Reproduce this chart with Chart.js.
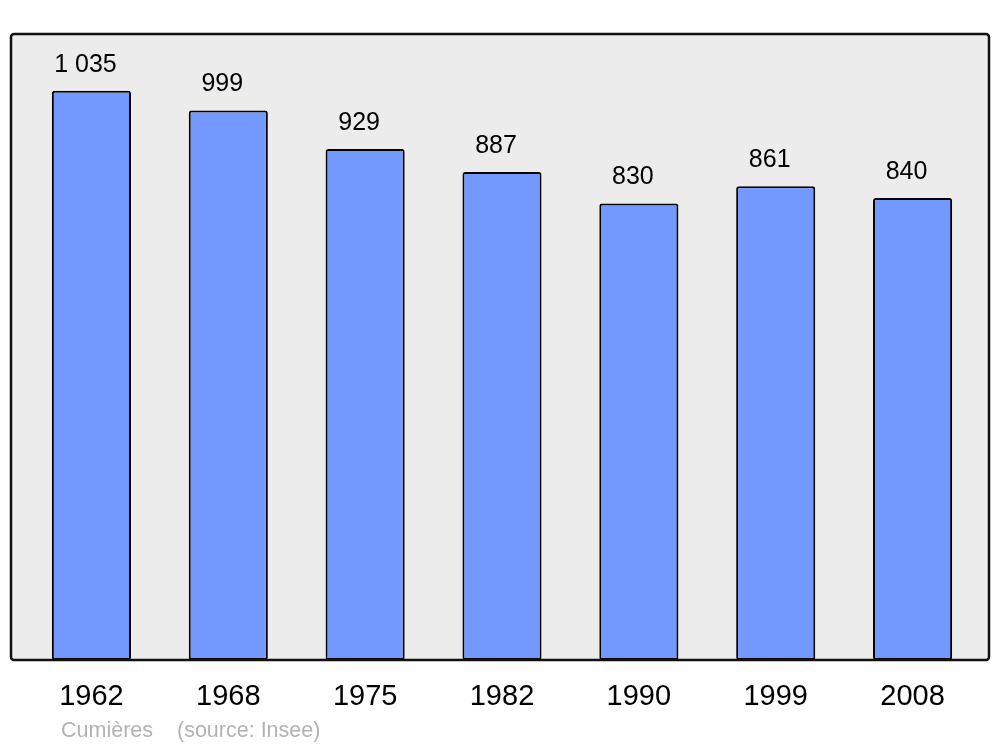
<!DOCTYPE html>
<html>
<head>
<meta charset="utf-8">
<script src="https://cdn.jsdelivr.net/npm/chart.js@4"></script>
<style>
  html, body { margin: 0; padding: 0; background: #fff; }
  #wrap { width: 1000px; height: 747px; }
</style>
</head>
<body>
<div id="wrap"><canvas id="chart"></canvas></div>
<script>
// données (Insee)
const years = ['1962', '1968', '1975', '1982', '1990', '1999', '2008'];
const population = [1035, 999, 929, 887, 830, 861, 840];
const commune = 'Cumières';
const source = '(source: Insee)';

// 1035 -> "1 035"
function formatNb(v) {
    return String(v).replace(/\B(?=(\d{3})+(?!\d))/g, ' ');
}

// fond gris avec cadre arrondi
const boxPlugin = {
    id: 'box',
    beforeDraw(chart) {
        const ctx = chart.ctx;
        ctx.save();
        ctx.beginPath();
        ctx.roundRect(11, 34, 978, 626, 3);
        ctx.fillStyle = '#ececec';
        ctx.fill();
        ctx.restore();
    },
    afterDatasetsDraw(chart) {
        const ctx = chart.ctx;
        ctx.save();
        ctx.beginPath();
        ctx.roundRect(11, 34, 978, 626, 3);
        ctx.lineWidth = 2.5;
        ctx.strokeStyle = '#111';
        ctx.stroke();

        // valeurs au-dessus des barres
        const meta = chart.getDatasetMeta(0);
        ctx.fillStyle = '#000';
        ctx.font = '25px "Liberation Sans", Arial, sans-serif';
        ctx.textAlign = 'center';
        ctx.textBaseline = 'middle';
        meta.data.forEach((bar, i) => {
            ctx.fillText(formatNb(population[i]), bar.x - 6, bar.y - 26);
        });

        // légende source
        ctx.fillStyle = '#b3b3b3';
        ctx.font = '21.5px "Liberation Sans", Arial, sans-serif';
        ctx.textAlign = 'left';
        ctx.fillText(commune, 61, 731);
        ctx.fillText(source, 177, 731);
        ctx.restore();
    }
};

const ctx = document.getElementById('chart').getContext('2d');
new Chart(ctx, {
    type: 'bar',
    data: {
        labels: years,
        datasets: [{
            data: population,
            backgroundColor: '#7399ff',
            borderColor: '#000',
            borderWidth: 2,
            borderRadius: 2.5,
            borderSkipped: false,
            categoryPercentage: 1,
            barPercentage: 0.578
        }]
    },
    options: {
        responsive: true,
        maintainAspectRatio: false,
        animation: false,
        layout: {
            padding: { left: 23, right: 19, top: 34, bottom: 37 }
        },
        plugins: {
            legend: { display: false },
            tooltip: { enabled: false }
        },
        scales: {
            x: {
                grid: { display: false, drawTicks: false },
                border: { display: false },
                afterFit(scale) { scale.height = 50; },
                ticks: {
                    color: '#000',
                    padding: 20,
                    font: { size: 29, family: '"Liberation Sans", Arial, sans-serif' }
                }
            },
            y: {
                display: false,
                min: 0,
                max: 1138
            }
        }
    },
    plugins: [boxPlugin]
});
</script>
</body>
</html>
